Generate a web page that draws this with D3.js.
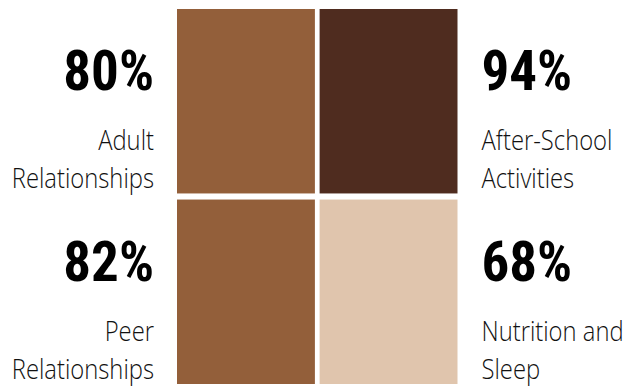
<!DOCTYPE html>
<html>
<head>
<meta charset="utf-8">
<script src="https://cdn.jsdelivr.net/npm/d3@7"></script>
<style>
  html, body { margin: 0; padding: 0; background: #fff; }
  svg { display: block; }
</style>
</head>
<body>
<svg id="chart" width="625" height="389"></svg>
<script>
// ---- data ----
const categories = ["Adult Relationships", "After-School Activities", "Peer Relationships", "Nutrition and Sleep"];
const labelLines = [["Adult", "Relationships"], ["After-School", "Activities"], ["Peer", "Relationships"], ["Nutrition and", "Sleep"]];
const values = [80, 94, 82, 68];
const gridColumn = [0, 1, 0, 1];
const gridRow = [0, 0, 1, 1];
const colorThresholds = [75, 90];
const colorRange = ["#e0c5ad", "#935f3a", "#4f2c1f"];

// ---- layout ----
const svg = d3.select("#chart");

const x = d3.scaleBand().domain([0, 1]).range([177, 457.5]).paddingInner(0.033).paddingOuter(0);
const y = d3.scaleBand().domain([0, 1]).range([9, 384]).paddingInner(0.032).paddingOuter(0);
const color = d3.scaleThreshold().domain(colorThresholds).range(colorRange);

const data = categories.map((c, i) => ({
  name: c, lines: labelLines[i], value: values[i], col: gridColumn[i], row: gridRow[i]
}));

svg.selectAll("rect.cell")
  .data(data)
  .join("rect")
  .attr("class", "cell")
  .attr("x", d => x(d.col))
  .attr("y", d => y(d.row))
  .attr("width", x.bandwidth())
  .attr("height", y.bandwidth())
  .attr("fill", d => color(d.value));

const numFont = "'Liberation Sans Narrow', 'Roboto Condensed', 'Arial Narrow', sans-serif";
const lblFont = "'Open Sans', Lato, sans-serif";

const g = svg.selectAll("g.lab")
  .data(data)
  .join("g")
  .attr("class", "lab")
  .attr("transform", d => {
    const tx = d.col === 0 ? x(d.col) - 23 : x(d.col) + x.bandwidth() + 24;
    return `translate(${tx},${y(d.row)})`;
  });

g.append("text")
  .attr("y", 81)
  .attr("text-anchor", d => d.col === 0 ? "end" : "start")
  .attr("font-family", numFont)
  .attr("font-weight", 700)
  .attr("font-size", 55)
  .attr("fill", "#000")
  .text(d => d3.format(".0f")(d.value) + "%");

g.each(function(d) {
  const t = d3.select(this).append("text")
    .attr("text-anchor", d.col === 0 ? "end" : "start")
    .attr("font-family", lblFont)
    .attr("font-weight", 300)
    .attr("font-size", 28)
    .attr("fill", "#111")
    .attr("transform", "scale(0.85,1)");
  d.lines.forEach((ln, k) => {
    t.append("tspan").attr("x", 0).attr("y", 141 + k * 38).text(ln);
  });
});
</script>
</body>
</html>
